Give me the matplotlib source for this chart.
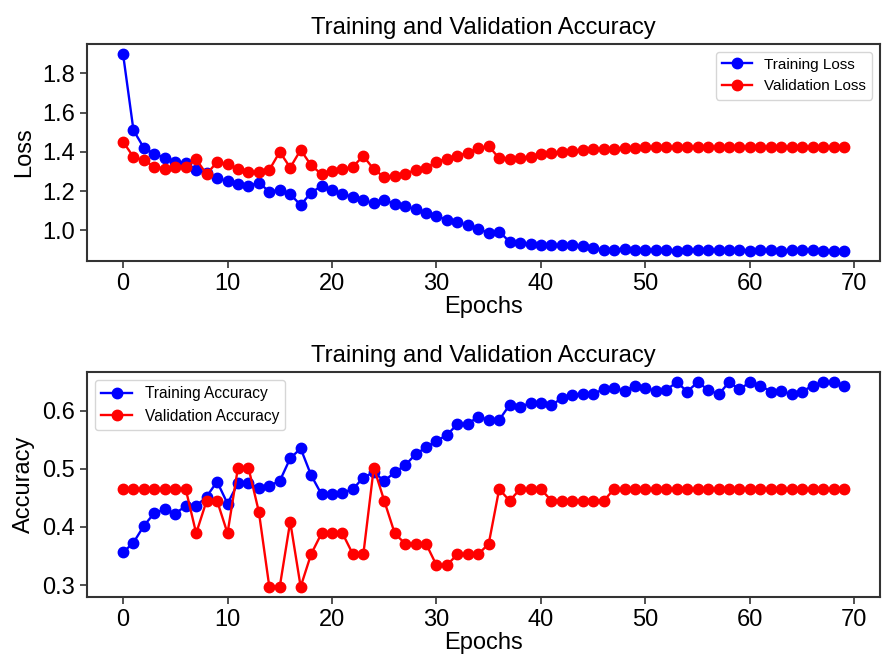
import matplotlib
matplotlib.use("Agg")
import matplotlib.pyplot as plt
import numpy as np

plt.rcParams['font.family'] = ['Liberation Sans', 'DejaVu Sans']

epochs = list(range(70))

train_loss = [1.90, 1.51, 1.42, 1.39, 1.37, 1.35, 1.345, 1.31, 1.29, 1.265,
              1.252, 1.235, 1.226, 1.243, 1.197, 1.206, 1.184, 1.129, 1.192, 1.226,
              1.206, 1.186, 1.170, 1.153, 1.138, 1.153, 1.136, 1.124, 1.107, 1.090,
              1.073, 1.053, 1.042, 1.026, 1.009, 0.985, 0.993, 0.942, 0.934, 0.929,
              0.925, 0.923, 0.923, 0.923, 0.920, 0.912, 0.900, 0.900, 0.907, 0.900,
              0.900, 0.901, 0.901, 0.894, 0.900, 0.901, 0.900, 0.901, 0.900, 0.901,
              0.896, 0.900, 0.901, 0.896, 0.901, 0.900, 0.901, 0.896, 0.896, 0.896]

val_loss = [1.452, 1.374, 1.357, 1.325, 1.315, 1.325, 1.325, 1.362, 1.286, 1.349,
            1.337, 1.311, 1.298, 1.298, 1.308, 1.400, 1.320, 1.410, 1.332, 1.286,
            1.301, 1.311, 1.325, 1.379, 1.311, 1.272, 1.277, 1.289, 1.308, 1.320,
            1.349, 1.366, 1.379, 1.396, 1.418, 1.430, 1.367, 1.366, 1.371, 1.376,
            1.388, 1.393, 1.400, 1.405, 1.410, 1.413, 1.417, 1.417, 1.422, 1.422,
            1.425, 1.425, 1.425, 1.425, 1.425, 1.425, 1.425, 1.425, 1.425, 1.425,
            1.425, 1.425, 1.425, 1.425, 1.425, 1.425, 1.425, 1.425, 1.425, 1.425]

train_acc = [0.356, 0.373, 0.402, 0.424, 0.430, 0.423, 0.436, 0.436, 0.452, 0.478,
             0.440, 0.475, 0.475, 0.467, 0.471, 0.479, 0.518, 0.535, 0.489, 0.456,
             0.457, 0.459, 0.465, 0.485, 0.494, 0.479, 0.494, 0.506, 0.525, 0.537,
             0.548, 0.558, 0.577, 0.577, 0.590, 0.584, 0.584, 0.610, 0.607, 0.613,
             0.613, 0.609, 0.622, 0.627, 0.629, 0.629, 0.637, 0.639, 0.634, 0.643,
             0.639, 0.634, 0.636, 0.649, 0.633, 0.649, 0.636, 0.628, 0.649, 0.637,
             0.649, 0.643, 0.633, 0.634, 0.628, 0.633, 0.643, 0.649, 0.649, 0.643]

val_acc = [0.465, 0.465, 0.465, 0.465, 0.465, 0.465, 0.465, 0.389, 0.445, 0.445,
           0.389, 0.502, 0.502, 0.426, 0.297, 0.297, 0.409, 0.297, 0.353, 0.389,
           0.389, 0.389, 0.353, 0.353, 0.502, 0.445, 0.389, 0.371, 0.371, 0.371,
           0.334, 0.334, 0.353, 0.353, 0.353, 0.371, 0.465, 0.445, 0.465, 0.465,
           0.465, 0.445, 0.445, 0.445, 0.445, 0.445, 0.445, 0.465, 0.465, 0.465,
           0.465, 0.465, 0.465, 0.465, 0.465, 0.465, 0.465, 0.465, 0.465, 0.465,
           0.465, 0.465, 0.465, 0.465, 0.465, 0.465, 0.465, 0.465, 0.465, 0.465]

fig = plt.figure(figsize=(8.84, 6.54), dpi=100)
ax1 = fig.add_axes([0.0984, 0.601, 0.8971, 0.3317])
ax2 = fig.add_axes([0.0984, 0.0872, 0.8971, 0.3440])

mk = dict(marker='o', markersize=7.5, linewidth=1.7)

ax1.plot(epochs, train_loss, color='#0000ff', label='Training Loss', **mk)
ax1.plot(epochs, val_loss, color='#ff0000', label='Validation Loss', **mk)
ax1.set_title('Training and Validation Accuracy', fontsize=17.2, pad=7)
ax1.set_xlabel('Epochs', fontsize=17, labelpad=1)
ax1.set_ylabel('Loss', fontsize=17, labelpad=5)
ax1.set_yticks([1.0, 1.2, 1.4, 1.6, 1.8])
ax1.legend(loc='upper right', fontsize=11, framealpha=0.8, borderpad=0.4)

ax2.plot(epochs, train_acc, color='#0000ff', label='Training Accuracy', **mk)
ax2.plot(epochs, val_acc, color='#ff0000', label='Validation Accuracy', **mk)
ax2.set_title('Training and Validation Accuracy', fontsize=17.2, pad=7)
ax2.set_xlabel('Epochs', fontsize=17, labelpad=1)
ax2.set_ylabel('Accuracy', fontsize=17, labelpad=5)
ax2.set_yticks([0.3, 0.4, 0.5, 0.6])
ax2.legend(loc='upper left', fontsize=11.2, framealpha=0.8, borderpad=0.4)

for ax in (ax1, ax2):
    ax.set_xticks([0, 10, 20, 30, 40, 50, 60, 70])
    ax.tick_params(axis='both', labelsize=17, length=5, width=1.2, color='#333333',
                   direction='out')
    for s in ax.spines.values():
        s.set_color('#333333')
        s.set_linewidth(1.5)

fig.savefig('out.png', dpi=100)
